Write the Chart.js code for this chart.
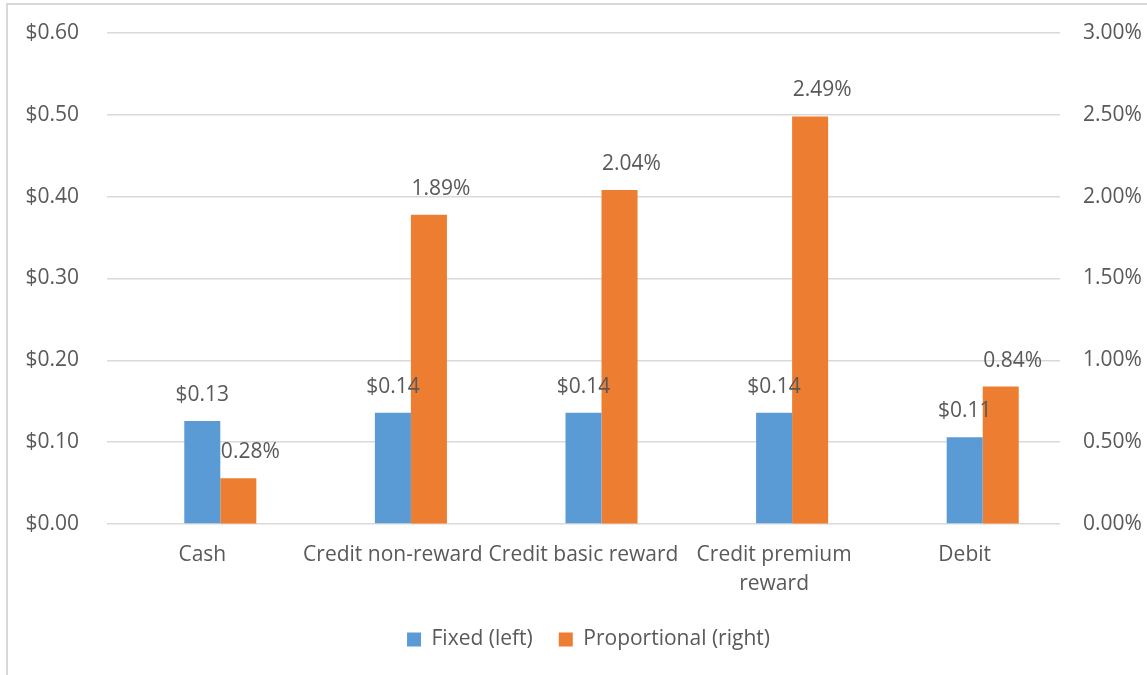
<!DOCTYPE html>
<html>
<head>
<meta charset="utf-8">
<script src="https://cdn.jsdelivr.net/npm/chart.js@4"></script>
<style>
  html, body { margin: 0; padding: 0; background: #fff; overflow: hidden; }
  #wrap { position: relative; width: 1147px; height: 675px; }
  #frame { position: absolute; left: 6px; top: 3px; width: 1300px; height: 900px; border: 2px solid #d9d9d9; box-sizing: border-box; }
  #chart { position: absolute; left: 0; top: 0; }
</style>
</head>
<body>
<div id="wrap">
  <div id="frame"></div>
  <canvas id="chart" width="1147" height="675"></canvas>
</div>
<script>
// categories and series
var categories = ['Cash', 'Credit non-reward', 'Credit basic reward', ['Credit premium', 'reward'], 'Debit'];
var fixedFee = [0.126, 0.136, 0.136, 0.136, 0.106];       // dollars, left axis
var proportionalFee = [0.28, 1.89, 2.04, 2.49, 0.84];     // percent, right axis
var leftTicks = [0, 0.1, 0.2, 0.3, 0.4, 0.5, 0.6];
var rightTicks = [0, 0.5, 1, 1.5, 2, 2.5, 3];

var blue = '#5B9BD5';
var orange = '#ED7D31';
var textGrey = '#595959';
var gridGrey = '#d9d9d9';
var fontFam = '"Open Sans", "Liberation Sans", sans-serif';

function money(v){ return '$' + Number(v).toFixed(2); }
function pct(v){ return Number(v).toFixed(2) + '%'; }

// data labels drawn above each bar
var barLabels = {
  id: 'barLabels',
  afterLayout: function(chart){
    // legend sits a bit right of centre in the original
    chart.legend.left += 15;
    chart.legend.right += 15;
  },
  afterDatasetsDraw: function(chart){
    var ctx = chart.ctx;
    ctx.save();
    ctx.font = '21px ' + fontFam;
    ctx.fillStyle = textGrey;
    ctx.textAlign = 'center';
    ctx.textBaseline = 'middle';
    chart.data.datasets.forEach(function(ds, di){
      if(!ds.fmt) return;
      var meta = chart.getDatasetMeta(di);
      meta.data.forEach(function(bar, i){
        ctx.fillText(ds.fmt(ds.data[i]), bar.x + ds.labelDx, bar.y - 26);
      });
    });
    ctx.restore();
  }
};

var ctx = document.getElementById('chart').getContext('2d');
var chart = new Chart(ctx, {
  type: 'bar',
  data: {
    labels: categories,
    datasets: [{
      // empty slot Excel keeps in front of each group
      label: '',
      data: [],
      yAxisID: 'y'
    }, {
      label: 'Fixed (left)',
      data: fixedFee,
      backgroundColor: blue,
      yAxisID: 'y',
      fmt: money,
      labelDx: 0
    }, {
      label: 'Proportional (right)',
      data: proportionalFee,
      backgroundColor: orange,
      yAxisID: 'y1',
      fmt: pct,
      labelDx: 12
    }]
  },
  options: {
    responsive: false,
    animation: false,
    maintainAspectRatio: false,
    categoryPercentage: 0.567,
    barPercentage: 1,
    layout: { padding: { top: 33, left: 0, right: 0, bottom: 15 } },
    plugins: {
      tooltip: { enabled: false },
      legend: {
        position: 'bottom',
        labels: {
          filter: function(item){ return item.text !== ''; },
          boxWidth: 14,
          boxHeight: 14,
          padding: 26,
          color: textGrey,
          font: { size: 21, family: fontFam }
        }
      }
    },
    scales: {
      x: {
        offset: true,
        grid: { display: false, drawTicks: false },
        border: { display: false },
        ticks: {
          color: textGrey,
          autoSkip: false,
          maxRotation: 0,
          padding: 16,
          font: { size: 21, family: fontFam, lineHeight: 1.4 }
        },
        afterFit: function(s){ s.height = 79; s.paddingLeft = 0; s.paddingRight = 0; }
      },
      y: {
        position: 'left',
        min: 0,
        max: 0.6,
        afterBuildTicks: function(s){ s.ticks = leftTicks.map(function(v){ return {value: v}; }); },
        grid: { color: gridGrey, lineWidth: 1.5, drawTicks: false },
        border: { display: false },
        ticks: {
          color: textGrey,
          padding: 28,
          font: { size: 21, family: fontFam },
          callback: function(v){ return money(v); }
        },
        afterFit: function(s){ s.width = 107; s.paddingTop = 0; s.paddingBottom = 0; }
      },
      y1: {
        position: 'right',
        min: 0,
        max: 3,
        afterBuildTicks: function(s){ s.ticks = rightTicks.map(function(v){ return {value: v}; }); },
        grid: { drawOnChartArea: false, drawTicks: false },
        border: { display: false },
        ticks: {
          color: textGrey,
          padding: 23,
          font: { size: 21, family: fontFam },
          callback: function(v){ return pct(v); }
        },
        afterFit: function(s){ s.width = 87; s.paddingTop = 0; s.paddingBottom = 0; }
      }
    }
  },
  plugins: [barLabels]
});
</script>
</body>
</html>
